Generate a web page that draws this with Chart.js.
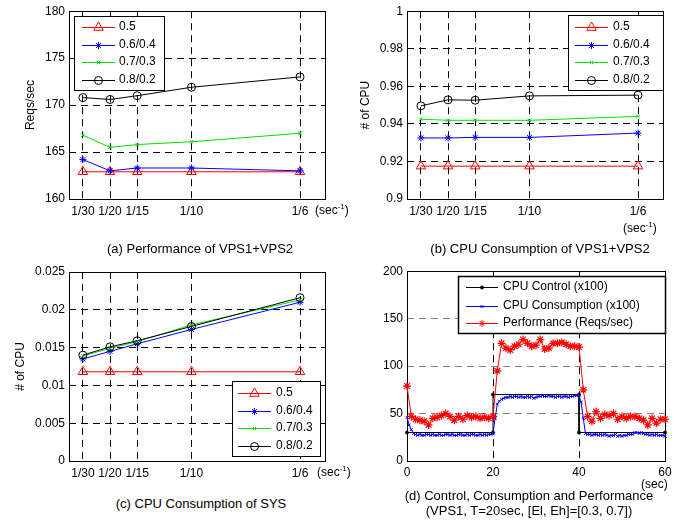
<!DOCTYPE html>
<html>
<head>
<meta charset="utf-8">
<script src="https://cdn.jsdelivr.net/npm/chart.js@4.4.1/dist/chart.umd.min.js"></script>
<style>
    body { margin: 0; background: #fff; }
    #page { position: relative; width: 678px; height: 520px; overflow: hidden; font-family: Arial, "Liberation Sans", sans-serif; color: #000; }
    #page canvas { position: absolute; }
    .cap { position: absolute; width: 320px; text-align: center; font-size: 13px; line-height: 15px; white-space: nowrap; }
    .unit { position: absolute; font-size: 12px; line-height: 14px; white-space: nowrap; }
    .unit sup { font-size: 8px; vertical-align: 5px; line-height: 0; }
</style>
</head>
<body>
<div id="page">
    <canvas id="chartA" width="340" height="235" style="left:0;top:0"></canvas>
    <canvas id="chartB" width="338" height="235" style="left:340px;top:0"></canvas>
    <canvas id="chartC" width="340" height="230" style="left:0;top:260px"></canvas>
    <canvas id="chartD" width="338" height="230" style="left:340px;top:260px"></canvas>

    <div class="unit" style="left:315px;top:203px">(sec<sup>-1</sup>)</div>
    <div class="unit" style="left:623px;top:221px">(sec<sup>-1</sup>)</div>
    <div class="unit" style="left:317px;top:465px">(sec<sup>-1</sup>)</div>
    <div class="unit" style="left:641px;top:477px">(sec)</div>

    <div class="cap" style="left:40px;top:241px">(a) Performance of VPS1+VPS2</div>
    <div class="cap" style="left:380px;top:241px">(b) CPU Consumption of VPS1+VPS2</div>
    <div class="cap" style="left:41px;top:496px">(c) CPU Consumption of SYS</div>
    <div class="cap" style="left:369px;top:488px">(d) Control, Consumption and Performance<br>(VPS1, T=20sec, [El, Eh]=[0.3, 0.7])</div>
</div>
<script>
//==========Data===========
const intervals = [1 / 30, 1 / 20, 1 / 15, 1 / 10, 1 / 6];
const intervalLabels = ['1/30', '1/20', '1/15', '1/10', '1/6'];
const seriesNames = ['0.5', '0.6/0.4', '0.7/0.3', '0.8/0.2'];

// (a) throughput, Reqs/sec
const perf05 = [162.9, 162.9, 162.9, 162.9, 162.9];
const perf0604 = [164.2, 163.0, 163.3, 163.3, 163.0];
const perf0703 = [166.8, 165.5, 165.8, 166.1, 167.0];
const perf0802 = [170.8, 170.6, 171.0, 171.9, 173.0];

// (b) CPU of VPS1+VPS2
const cpu05 = [0.9175, 0.9175, 0.9175, 0.9175, 0.9175];
const cpu0604 = [0.9325, 0.9325, 0.9328, 0.9328, 0.9351];
const cpu0703 = [0.9425, 0.9419, 0.9419, 0.9419, 0.9440];
const cpu0802 = [0.9496, 0.9528, 0.9526, 0.9549, 0.9553];

// (c) CPU of SYS
const sys05 = [0.0118, 0.0118, 0.0118, 0.0118, 0.0118];
const sys0604 = [0.0135, 0.0145, 0.0155, 0.0174, 0.0210];
const sys0703 = [0.0139, 0.0149, 0.0158, 0.0180, 0.0213];
const sys0802 = [0.0140, 0.0151, 0.0159, 0.0178, 0.0216];

// (d) time series, sec
const controlTimes = [0, 20, 20, 40, 40, 60];
const controlValues = [30, 30, 70, 70, 30, 30];

const consumptionStep = 0.5;
const consumptionValues = [
    46, 38, 33, 29,
    28, 27, 28, 27, 27, 28, 28, 27, 28, 27, 27, 28, 27, 27, 28, 28, 27, 28,
    27, 27, 28, 28, 27, 27, 28, 27, 28, 28, 27, 27, 28, 27, 28, 27, 28, 28,
    29, 45, 60, 63, 65, 66, 67,
    67, 68, 67, 68, 68, 67, 68, 67, 67, 68, 67, 68, 66, 67, 68, 68, 69,
    68, 68, 69, 68, 68, 67, 68, 68, 67, 68, 68, 67, 68, 68, 69, 69,
    69, 62, 45, 29,
    28, 28, 27, 28, 28, 27, 28, 27, 28, 27, 26, 27, 27, 28, 26, 27, 26, 27,
    27, 28, 28, 28, 30, 30, 29, 30, 29, 28, 28, 27, 28, 27, 28, 27, 27, 27, 26
];

const performanceStep = 1;
const performanceValues = [
    79, 47, 44, 43, 42, 38, 45, 46, 48, 50, 47, 43, 47, 44, 48, 46, 47, 45, 46, 45,
    47, 95, 124, 119, 117, 121, 123, 128, 124, 121, 122, 128, 118, 119, 124, 124, 125, 123, 121, 121,
    120, 75, 47, 42, 52, 45, 49, 48, 50, 44, 47, 45, 47, 47, 45, 43, 38, 45, 40, 44, 44
];

//==========Setup===========
Chart.defaults.font.family = 'Arial, "Liberation Sans", sans-serif';
Chart.defaults.font.size = 12;
Chart.defaults.color = '#000';

const seriesStyles = [
    { color: '#ff0000', pointStyle: 'triangle', radius: 5.5 },
    { color: '#0000ff', pointStyle: 'star', radius: 3.5 },
    { color: '#00dd00', pointStyle: 'crossRot', radius: 2.5 },
    { color: '#000000', pointStyle: 'circle', radius: 4 }
];

// axes box (matlab style, closed on all four sides)
const axesBox = {
    id: 'axesBox',
    beforeDatasetsDraw(chart) {
        const { ctx, chartArea: a } = chart;
        ctx.save();
        ctx.strokeStyle = '#000';
        ctx.lineWidth = 1;
        ctx.strokeRect(Math.round(a.left) + 0.5, Math.round(a.top) + 0.5,
            Math.round(a.right - a.left), Math.round(a.bottom - a.top));
        ctx.restore();
    }
};

// legend box drawn inside the plot
const boxLegend = {
    id: 'boxLegend',
    afterDatasetsDraw(chart, args, opts) {
        if (!opts.rows) return;
        const ctx = chart.ctx;
        ctx.save();
        ctx.fillStyle = '#fff';
        ctx.fillRect(opts.left, opts.top, opts.width, opts.height);
        ctx.strokeStyle = '#000';
        ctx.lineWidth = opts.frame || 1;
        ctx.strokeRect(opts.left + 0.5, opts.top + 0.5, opts.width, opts.height);
        ctx.font = '12px Arial, "Liberation Sans", sans-serif';
        ctx.textBaseline = 'middle';
        chart.data.datasets.forEach(function (ds, i) {
            const y = opts.rows[i];
            ctx.strokeStyle = ds.borderColor;
            ctx.lineWidth = 1;
            ctx.beginPath();
            ctx.moveTo(opts.lineFrom, Math.round(y) + 0.5);
            ctx.lineTo(opts.lineTo, Math.round(y) + 0.5);
            ctx.stroke();
            ctx.fillStyle = ds.pointBackgroundColor;
            ctx.strokeStyle = ds.pointBorderColor;
            Chart.helpers.drawPoint(ctx, {
                pointStyle: ds.pointStyle, radius: ds.legendRadius, borderWidth: 1, rotation: 0
            }, (opts.lineFrom + opts.lineTo) / 2, Math.round(y) + 0.5);
            ctx.fillStyle = '#000';
            ctx.fillText(ds.label, opts.textAt, y);
        });
        ctx.restore();
    }
};

function trimNum(v) {
    return String(+v.toFixed(4));
}

function intervalDatasets(valueSets) {
    return valueSets.map(function (values, i) {
        const st = seriesStyles[i];
        return {
            label: seriesNames[i],
            data: values.map((v, k) => ({ x: intervals[k], y: v })),
            borderColor: st.color,
            borderWidth: 1,
            pointStyle: st.pointStyle,
            pointRadius: st.radius,
            legendRadius: st.radius,
            pointBorderWidth: 1,
            pointBorderColor: st.color,
            pointBackgroundColor: 'rgba(0,0,0,0)',
            order: valueSets.length - i,
            clip: false
        };
    });
}

function intervalChart(canvasId, valueSets, cfg) {
    new Chart(document.getElementById(canvasId), {
        type: 'line',
        data: { datasets: intervalDatasets(valueSets) },
        options: {
            responsive: false,
            animation: false,
            events: [],
            devicePixelRatio: 1,
            layout: { padding: { left: 0, top: cfg.top, right: cfg.right, bottom: 0 } },
            scales: {
                x: {
                    type: 'linear',
                    min: 0.0248,
                    max: 0.182,
                    afterBuildTicks: function (scale) {
                        scale.ticks = intervals.map(v => ({ value: v }));
                    },
                    afterFit: function (scale) { scale.height = cfg.xHeight; },
                    ticks: {
                        autoSkip: false, maxRotation: 0, minRotation: 0, padding: 5,
                        callback: (v, i) => intervalLabels[i]
                    },
                    grid: { color: '#000', lineWidth: 1, drawTicks: false },
                    border: { display: false, dash: [7, 5] }
                },
                y: {
                    min: cfg.yMin,
                    max: cfg.yMax,
                    afterFit: function (scale) { scale.width = cfg.yWidth; },
                    ticks: { stepSize: cfg.yStep, padding: 4, callback: v => trimNum(v) },
                    grid: { color: '#000', lineWidth: 1, drawTicks: false },
                    border: { display: false, dash: [7, 5] },
                    title: { display: true, text: cfg.yTitle, padding: { top: cfg.titlePad, bottom: 0 } }
                }
            },
            plugins: {
                legend: { display: false },
                tooltip: { enabled: false },
                boxLegend: cfg.legend
            }
        },
        plugins: [axesBox, boxLegend]
    });
}

//==========Charts===========
intervalChart('chartA', [perf05, perf0604, perf0703, perf0802], {
    top: 9, right: 15, xHeight: 36, yWidth: 69,
    yMin: 160, yMax: 180, yStep: 5, yTitle: 'Reqs/sec', titlePad: 23,
    legend: { left: 74, top: 16, width: 90, height: 74, rows: [27, 44.5, 62, 79.5], lineFrom: 82, lineTo: 115, textAt: 119 }
});

intervalChart('chartB', [cpu05, cpu0604, cpu0703, cpu0802], {
    top: 9, right: 15, xHeight: 36, yWidth: 67,
    yMin: 0.9, yMax: 1, yStep: 0.02, yTitle: '# of CPU', titlePad: 18,
    legend: { left: 228, top: 15, width: 95, height: 75, rows: [27, 44.5, 62, 79.5], lineFrom: 235, lineTo: 268, textAt: 273 }
});

intervalChart('chartC', [sys05, sys0604, sys0703, sys0802], {
    top: 12, right: 15, xHeight: 29, yWidth: 69,
    yMin: 0, yMax: 0.025, yStep: 0.005, yTitle: '# of CPU', titlePad: 13,
    legend: { left: 232, top: 121, width: 88, height: 75, rows: [133, 150.5, 168, 185.5], lineFrom: 238, lineTo: 271, textAt: 276 }
});

new Chart(document.getElementById('chartD'), {
    type: 'line',
    data: {
        datasets: [
            {
                label: 'CPU Control (x100)',
                data: controlTimes.map((t, k) => ({ x: t, y: controlValues[k] })),
                borderColor: '#000', borderWidth: 1,
                pointStyle: 'circle', pointRadius: 1.5, legendRadius: 1.5,
                pointBorderWidth: 1, pointBorderColor: '#000', pointBackgroundColor: '#000',
                order: 3, clip: false
            },
            {
                label: 'CPU Consumption (x100)',
                data: consumptionValues.map((v, k) => ({ x: k * consumptionStep, y: v })),
                borderColor: '#0000ff', borderWidth: 1,
                pointStyle: 'crossRot', pointRadius: 2, legendRadius: 2,
                pointBorderWidth: 1, pointBorderColor: '#0000ff', pointBackgroundColor: '#0000ff',
                order: 2, clip: false
            },
            {
                label: 'Performance (Reqs/sec)',
                data: performanceValues.map((v, k) => ({ x: k * performanceStep, y: v })),
                borderColor: '#ff0000', borderWidth: 1,
                pointStyle: 'star', pointRadius: 4, legendRadius: 3.5,
                pointBorderWidth: 1.2, pointBorderColor: '#ff0000', pointBackgroundColor: '#ff0000',
                order: 1, clip: false
            }
        ]
    },
    options: {
        responsive: false,
        animation: false,
        events: [],
        devicePixelRatio: 1,
        layout: { padding: { left: 0, top: 11, right: 13, bottom: 0 } },
        scales: {
            x: {
                type: 'linear', min: 0, max: 60,
                afterFit: function (scale) { scale.height = 29; },
                ticks: { stepSize: 20, autoSkip: false, maxRotation: 0, padding: 4 },
                grid: { color: '#000', lineWidth: 1, drawTicks: false },
                border: { display: false, dash: [7, 5] }
            },
            y: {
                min: 0, max: 200,
                afterFit: function (scale) { scale.width = 67; },
                ticks: { stepSize: 50, padding: 4 },
                grid: { color: '#808080', lineWidth: 1, drawTicks: false },
                border: { display: false, dash: [7, 5] }
            }
        },
        plugins: {
            legend: { display: false },
            tooltip: { enabled: false },
            boxLegend: { left: 118, top: 16, width: 207, height: 57, frame: 1.5, rows: [27, 45.5, 63], lineFrom: 126, lineTo: 158, textAt: 163 }
        }
    },
    plugins: [axesBox, boxLegend]
});
</script>
</body>
</html>
